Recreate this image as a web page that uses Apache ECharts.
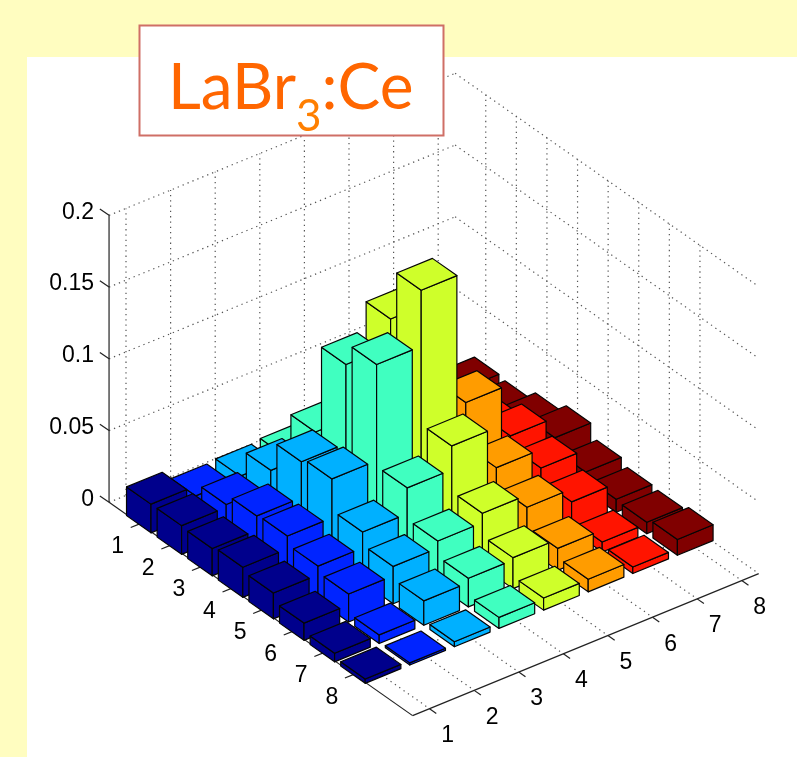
<!DOCTYPE html>
<html>
<head>
<meta charset="utf-8">
<style>html,body{margin:0;padding:0;background:#fffdc0}#c{width:797px;height:757px}</style>
<script src="https://cdn.jsdelivr.net/npm/echarts@6/dist/echarts.min.js"></script>
</head>
<body>
<div id="c"></div>
<script>
var titleBase = 'LaBr', titleSub = '3', titleTail = ':Ce';
var xTicks = [1,2,3,4,5,6,7,8];
var yTicks = [1,2,3,4,5,6,7,8];
var zTicks = [0,0.05,0.1,0.15,0.2];
var zLabels = ['0','0.05','0.1','0.15','0.2'];
var colors = ['#00008c','#0024ff','#00b0ff','#40ffc0','#cfff2a','#ff9c00','#ff1400','#800000'];
var col1 = [0.020,0.020,0.019,0.021,0.018,0.012,0.006,0.003];
var col2 = [0.013,0.022,0.029,0.030,0.024,0.0195,0.006,0.0015];
var col3 = [0.014,0.033,0.054,0.057,0.035,0.026,0.017,0.0035];
var col4 = [0.0155,0.047,0.109,0.124,0.053,0.031,0.020,0.0077];
var col5 = [0.020,0.055,0.128,0.163,0.0695,0.0375,0.0216,0.0084];
var col6 = [0.014,0.030,0.055,0.072,0.0416,0.029,0.0153,0.0088];
var col7 = [0.010,0.020,0.028,0.036,0.0286,0.020,0.007,0.0045];
var col8 = [0.011,0.0095,0.016,0.022,0.013,0.009,0.008,0.011];
var columns = [col1,col2,col3,col4,col5,col6,col7,col8];

// oblique view of the 3-D box
var view = {ox:156.6, oy:516.9, xx:44.6, xy:-18.3, yx:30.6, yy:21.5, zy:-1435};
var lim = {x0:0.62, x1:8.38, y0:0, y1:9.92, z0:0, z1:0.2};
var half = 0.4;
function proj(i,j,z){
  return [view.ox+(i-1)*view.xx+(j-1)*view.yx, view.oy+(i-1)*view.xy+(j-1)*view.yy+z*view.zy];
}
function face(api,pts,fill){
  return {type:'polygon',shape:{points:pts.map(function(p){return api.coord(p);})},
    style:{fill:fill,stroke:'#050505',lineWidth:1.2,lineJoin:'round'}};
}
function barItem(color){
  return function(params,api){
    var i=api.value(0), j=api.value(1), h=api.value(2);
    var l=i-half, r=i+half, b=j-half, f=j+half;
    return {type:'group',children:[
      face(api,[proj(l,b,0),proj(l,f,0),proj(l,f,h),proj(l,b,h)],color),
      face(api,[proj(l,f,0),proj(r,f,0),proj(r,f,h),proj(l,f,h)],color),
      face(api,[proj(l,b,h),proj(l,f,h),proj(r,f,h),proj(r,b,h)],color)
    ]};
  };
}
// segments: [i0,j0,z0,i1,j1,z1]
var dotted=[], solid=[];
xTicks.forEach(function(t){
  dotted.push([t,lim.y0,lim.z0,t,lim.y1,lim.z0]);
  dotted.push([t,lim.y0,lim.z0,t,lim.y0,lim.z1]);
});
yTicks.forEach(function(t){
  dotted.push([lim.x0,t,lim.z0,lim.x1,t,lim.z0]);
  dotted.push([lim.x1,t,lim.z0,lim.x1,t,lim.z1]);
});
zTicks.forEach(function(t){
  dotted.push([lim.x0,lim.y0,t,lim.x1,lim.y0,t]);
  dotted.push([lim.x1,lim.y0,t,lim.x1,lim.y1,t]);
});
solid.push([lim.x0,lim.y0,lim.z0,lim.x0,lim.y0,lim.z1]);
solid.push([lim.x0,lim.y0,lim.z0,lim.x0,lim.y1,lim.z0]);
solid.push([lim.x0,lim.y1,lim.z0,lim.x1,lim.y1,lim.z0]);
xTicks.forEach(function(t){solid.push([t,lim.y1,lim.z0,t,lim.y1+0.22,lim.z0]);});
yTicks.forEach(function(t){solid.push([lim.x0,t,lim.z0,lim.x0-0.2,t,lim.z0]);});
zTicks.forEach(function(t){solid.push([lim.x0,lim.y0,t,lim.x0,lim.y0-0.3,t]);});

function segItem(style){
  return function(params,api){
    var a=api.coord(proj(api.value(0),api.value(1),api.value(2)));
    var b=api.coord(proj(api.value(3),api.value(4),api.value(5)));
    return {type:'line',shape:{x1:a[0],y1:a[1],x2:b[0],y2:b[1]},style:style};
  };
}
function labelItem(kind){
  return function(params,api){
    var v=api.value(0), p, t, align='center';
    if(kind==='x'){p=api.coord(proj(v,lim.y1,lim.z0));p=[p[0]+18,p[1]+27];t=String(v);}
    else if(kind==='y'){p=api.coord(proj(lim.x0,v,lim.z0));p=[p[0]-22,p[1]+23];t=String(v);}
    else {p=api.coord(proj(lim.x0,lim.y0,v));p=[94,p[1]-3];t=zLabels[params.dataIndex];align='right';}
    return {type:'text',style:{text:t,x:p[0],y:p[1],align:align,verticalAlign:'middle',
      font:'23px "Liberation Sans"',fill:'#000'}};
  };
}
function tick(kind,arr){
  return {type:'custom',coordinateSystem:'cartesian2d',clip:false,silent:true,animation:false,z:3,
    renderItem:labelItem(kind),data:arr.map(function(t){return [t];}),encode:{x:-1,y:-1}};
}
var series=[
  {type:'custom',name:'grid',coordinateSystem:'cartesian2d',clip:false,silent:true,animation:false,z:2,
   renderItem:segItem({stroke:'#555',lineWidth:1.2,lineDash:[1.3,4],fill:null}),data:dotted,encode:{x:-1,y:-1}},
  {type:'custom',name:'axes',coordinateSystem:'cartesian2d',clip:false,silent:true,animation:false,z:2,
   renderItem:segItem({stroke:'#222',lineWidth:1.2,fill:null}),data:solid,encode:{x:-1,y:-1}},
  tick('x',xTicks),tick('y',yTicks),tick('z',zTicks)
];
for(var c=columns.length-1;c>=0;c--){
  series.push({type:'custom',name:'column '+(c+1),coordinateSystem:'cartesian2d',clip:false,silent:true,animation:false,z:4,
    renderItem:barItem(colors[c]),
    data:columns[c].map(function(v,k){return [c+1,k+1,v];}),encode:{x:-1,y:-1}});
}
var chart=echarts.init(document.getElementById('c'),null,{renderer:'canvas'});
chart.setOption({
  backgroundColor:'#fffdc0',
  animation:false,
  grid:{left:0,right:0,top:0,bottom:0},
  xAxis:{type:'value',min:0,max:797,show:false},
  yAxis:{type:'value',min:0,max:757,inverse:true,show:false},
  graphic:[
    {type:'rect',z:0,shape:{x:27,y:57,width:770,height:700},style:{fill:'#fff'}},
    {type:'rect',z:100,shape:{x:139.5,y:25.5,width:304,height:110},style:{fill:'#fff',stroke:'#cf6f66',lineWidth:2}},
    {type:'text',z:101,x:168,y:56,style:{
      text:'{a|'+titleBase+'}{s|'+titleSub+'}{a|'+titleTail+'}',
      rich:{
        a:{font:'64px Lato',fill:'#ff6600',verticalAlign:'top'},
        s:{font:'44px Lato',fill:'#ff7f00',verticalAlign:'top',padding:[39,0,0,0]}
      }}}
  ],
  series:series
});
</script>
</body>
</html>
